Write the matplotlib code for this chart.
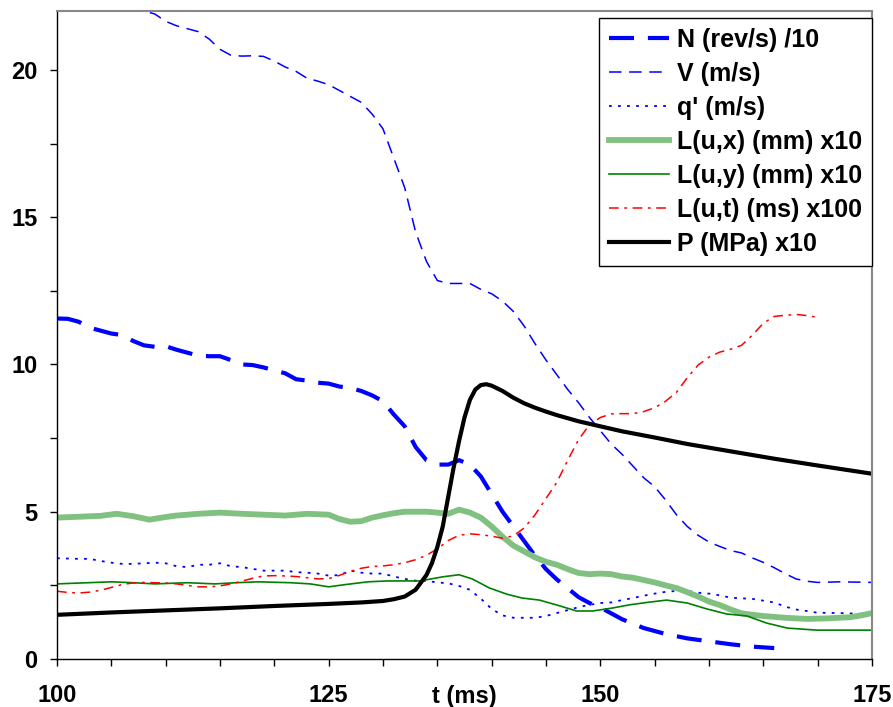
import matplotlib
matplotlib.use("Agg")
import matplotlib.pyplot as plt
from matplotlib.ticker import MultipleLocator

plt.rcParams['font.family'] = ['Liberation Sans', 'DejaVu Sans']
plt.rcParams['font.weight'] = 'bold'
plt.rcParams['lines.scale_dashes'] = False

# N (rev/s) /10
t_n = [100, 101, 102, 103, 104, 105, 106, 107, 108, 109, 110, 111, 112, 113, 114,
       115, 116, 117, 118, 119, 120, 121, 122, 123, 124, 125, 126, 127, 128, 129,
       130, 131, 132, 133, 134, 135, 136, 137, 138, 139, 140, 141, 142, 143, 144,
       145, 146, 147, 148, 149, 150, 151, 152, 154, 156, 158, 160, 162, 164, 166]
n_vals = [11.56, 11.55, 11.45, 11.25, 11.15, 11.05, 11.0, 10.8, 10.65, 10.6, 10.62, 10.5,
          10.4, 10.3, 10.28, 10.28, 10.15, 10.0, 9.98, 9.9, 9.8, 9.7, 9.5, 9.45, 9.38,
          9.35, 9.25, 9.2, 9.1, 8.95, 8.75, 8.3, 7.9, 7.2, 6.75, 6.6, 6.6, 6.75, 6.6,
          6.2, 5.6, 5.0, 4.5, 4.0, 3.5, 3.05, 2.7, 2.4, 2.1, 1.9, 1.75, 1.55, 1.35,
          1.05, 0.85, 0.7, 0.6, 0.5, 0.42, 0.37]

# V (m/s)
t_v = [107, 108, 109, 110, 111, 112, 113, 114, 115, 116, 117, 118, 119, 120, 121, 122,
       123, 124, 125, 126, 127, 128, 129, 130, 131, 132, 133, 134, 135, 136, 137, 138,
       139, 140, 141, 142, 143, 144, 145, 146, 147, 148, 149, 150, 151, 152, 153, 154,
       155, 156, 157, 158, 159, 160, 161, 162, 163, 164, 165, 166, 167, 168, 169, 170,
       172, 175]
v_vals = [22.3, 22.0, 21.9, 21.65, 21.5, 21.4, 21.3, 21.05, 20.7, 20.5, 20.47, 20.48,
          20.46, 20.3, 20.1, 19.95, 19.72, 19.62, 19.5, 19.3, 19.1, 18.9, 18.5, 18.0,
          17.0, 16.0, 14.5, 13.5, 12.85, 12.75, 12.75, 12.75, 12.55, 12.4, 12.15, 11.8,
          11.3, 10.7, 10.15, 9.65, 9.15, 8.7, 8.2, 7.75, 7.3, 6.95, 6.55, 6.15, 5.85,
          5.4, 4.9, 4.5, 4.2, 3.97, 3.82, 3.68, 3.6, 3.43, 3.28, 3.1, 2.9, 2.72, 2.64,
          2.6, 2.62, 2.6]

# q' (m/s)
t_q = [100, 102, 103, 104, 105, 106, 107, 108, 109, 110, 111, 112, 113, 114, 115, 116,
       117, 118, 119, 120, 121, 122, 123, 124, 125, 126, 127, 128, 129, 130, 131, 132,
       133, 134, 135, 136, 137, 138, 139, 140, 141, 142, 143, 144, 145, 146, 147, 148,
       149, 150, 151, 152, 153, 154, 155, 156, 157, 158, 159, 160, 161, 162, 163, 164,
       165, 166, 167, 168, 169, 170, 172, 175]
q_vals = [3.42, 3.4, 3.4, 3.33, 3.27, 3.23, 3.23, 3.25, 3.27, 3.25, 3.15, 3.12, 3.2, 3.2,
          3.25, 3.15, 3.12, 3.06, 3.0, 3.0, 3.0, 2.95, 2.93, 2.9, 2.83, 2.85, 3.0, 2.93,
          2.9, 2.9, 2.8, 2.72, 2.66, 2.65, 2.6, 2.57, 2.48, 2.35, 2.05, 1.7, 1.48, 1.4,
          1.4, 1.4, 1.46, 1.56, 1.66, 1.76, 1.84, 1.9, 1.92, 2.0, 2.07, 2.15, 2.22, 2.28,
          2.31, 2.31, 2.25, 2.22, 2.16, 2.08, 2.06, 2.04, 1.98, 1.92, 1.78, 1.68, 1.63,
          1.57, 1.56, 1.52]

# L(u,x) (mm) x10
t_lux = [100, 102, 104, 105.5, 107, 108.5, 110, 111, 113, 115, 117, 119, 121, 123, 125,
         126, 127, 128, 129, 130, 131, 132, 134, 135, 136, 137, 138, 139, 140, 141, 142,
         143, 144, 145, 146, 147, 148, 149, 150, 151, 152, 153, 154, 155, 156, 157, 158,
         159, 160, 161, 162, 163, 164, 165, 167, 169, 171, 173, 174, 175]
lux_vals = [4.8, 4.83, 4.86, 4.93, 4.85, 4.73, 4.82, 4.87, 4.93, 4.97, 4.93, 4.9, 4.87,
            4.93, 4.9, 4.75, 4.66, 4.68, 4.8, 4.88, 4.95, 5.0, 5.0, 4.97, 4.93, 5.07,
            4.97, 4.8, 4.5, 4.15, 3.85, 3.65, 3.45, 3.3, 3.2, 3.05, 2.92, 2.88, 2.9,
            2.88, 2.8, 2.76, 2.68, 2.6, 2.5, 2.41, 2.27, 2.12, 1.95, 1.83, 1.68, 1.55,
            1.5, 1.46, 1.4, 1.36, 1.38, 1.42, 1.48, 1.56]

# L(u,y) (mm) x10
t_luy = [100, 105, 107, 109, 112, 114.5, 116.5, 118.5, 121.5, 123.3, 125, 126.4, 128.6,
         130.4, 133.4, 135.5, 137, 138.2, 139.8, 141.4, 142.8, 144.4, 146.3, 147.8, 149.3,
         151.1, 152.7, 154.5, 156.1, 158, 159.8, 161.6, 163.5, 165.3, 167.2, 169.9, 173, 175]
luy_vals = [2.55, 2.62, 2.59, 2.55, 2.59, 2.55, 2.59, 2.62, 2.59, 2.55, 2.45, 2.52, 2.62,
            2.65, 2.65, 2.79, 2.86, 2.72, 2.41, 2.2, 2.07, 2.0, 1.8, 1.63, 1.63, 1.73,
            1.84, 1.93, 2.0, 1.9, 1.7, 1.53, 1.46, 1.22, 1.05, 0.98, 0.98, 0.98]

# L(u,t) (ms) x100
t_lut = [100, 101, 102, 103, 104, 105, 106, 107, 108, 109, 110, 111, 112, 113, 114, 115,
         116, 117, 118, 119, 120, 121, 122, 123, 124, 125, 126, 127, 128, 129, 130, 131,
         132, 133, 134, 135, 136, 137, 138, 139, 140, 141, 142, 143, 144, 145, 146, 147,
         148, 149, 150, 151, 152, 153, 154, 155, 156, 157, 158, 159, 160, 161, 162, 163,
         164, 165, 166, 167, 168, 169, 170]
lut_vals = [2.3, 2.26, 2.24, 2.27, 2.33, 2.43, 2.53, 2.58, 2.6, 2.59, 2.58, 2.55, 2.5,
            2.45, 2.45, 2.48, 2.55, 2.64, 2.74, 2.82, 2.83, 2.82, 2.8, 2.76, 2.72, 2.73,
            2.84, 2.98, 3.08, 3.14, 3.16, 3.2, 3.27, 3.37, 3.52, 3.74, 4.02, 4.2, 4.25,
            4.22, 4.17, 4.1, 4.18, 4.45, 4.9, 5.45, 6.0, 6.75, 7.45, 7.95, 8.2, 8.32,
            8.33, 8.33, 8.4, 8.53, 8.75, 9.05, 9.55, 9.98, 10.25, 10.42, 10.52, 10.65,
            11.0, 11.4, 11.63, 11.67, 11.7, 11.66, 11.6]

# P (MPa) x10
t_p = [100, 105, 110, 115, 120, 125, 128, 130, 131, 132, 133, 134, 134.5, 135, 135.5,
       136, 136.5, 137, 137.5, 138, 138.5, 139, 139.5, 140, 141, 142, 143, 144, 145, 146,
       148, 150, 152, 155, 158, 162, 166, 170, 175]
p_vals = [1.5, 1.58, 1.65, 1.72, 1.8, 1.87, 1.92, 1.97, 2.03, 2.12, 2.35, 2.85, 3.25, 3.8,
          4.5, 5.5, 6.5, 7.4, 8.2, 8.8, 9.15, 9.3, 9.33, 9.28, 9.1, 8.87, 8.68, 8.53,
          8.4, 8.28, 8.07, 7.9, 7.73, 7.52, 7.3, 7.05, 6.8, 6.57, 6.29]

fig = plt.figure(figsize=(8.93, 7.07), dpi=100)
ax = fig.add_axes([0.0638, 0.0679, 0.9127, 0.9165])

ax.plot(t_n, n_vals, color='#0000ff', lw=3.0, dashes=(18, 10), label='N (rev/s) /10')
ax.plot(t_v, v_vals, color='#0000ff', lw=1.1, dashes=(9, 5.5), label='V (m/s)')
ax.plot(t_q, q_vals, color='#0000ff', lw=1.3, dashes=(2, 4.5), label="q' (m/s)")
ax.plot(t_lux, lux_vals, color='#80c080', lw=4.2, label='L(u,x) (mm) x10')
ax.plot(t_luy, luy_vals, color='#008000', lw=1.2, label='L(u,y) (mm) x10')
ax.plot(t_lut, lut_vals, color='#ff0000', lw=1.1, dashes=(7, 4, 2, 4), label='L(u,t) (ms) x100')
ax.plot(t_p, p_vals, color='black', lw=3.0, label='P (MPa) x10')

ax.set_xlim(100, 175)
ax.set_ylim(0, 22)

# excel style ticks: outside, all the same length
ax.xaxis.set_major_locator(MultipleLocator(25))
ax.xaxis.set_minor_locator(MultipleLocator(5))
ax.yaxis.set_major_locator(MultipleLocator(5))
ax.yaxis.set_minor_locator(MultipleLocator(2.5))
ax.tick_params(axis='both', which='both', direction='out', length=5, width=1, labelsize=17)
ax.tick_params(axis='x', pad=13)
ax.tick_params(axis='y', pad=9)

for side in ['top', 'right']:
    ax.spines[side].set_color('#888888')
    ax.spines[side].set_linewidth(1.5)
for side in ['left', 'bottom']:
    ax.spines[side].set_color('black')
    ax.spines[side].set_linewidth(1)

ax.set_xlabel('t (ms)', fontsize=17, fontweight='bold')
ax.xaxis.set_label_coords(0.5, -0.04)
ax.xaxis.label.set_verticalalignment('top')

leg = ax.legend(loc='upper right', bbox_to_anchor=(1.0, 0.99), borderaxespad=0,
                fontsize=18, frameon=True, fancybox=False, framealpha=1,
                edgecolor='black', handlelength=2.4, handletextpad=0.3,
                labelspacing=0.4, borderpad=0.4)
leg.get_frame().set_linewidth(1)

fig.savefig('out.png', dpi=100)
